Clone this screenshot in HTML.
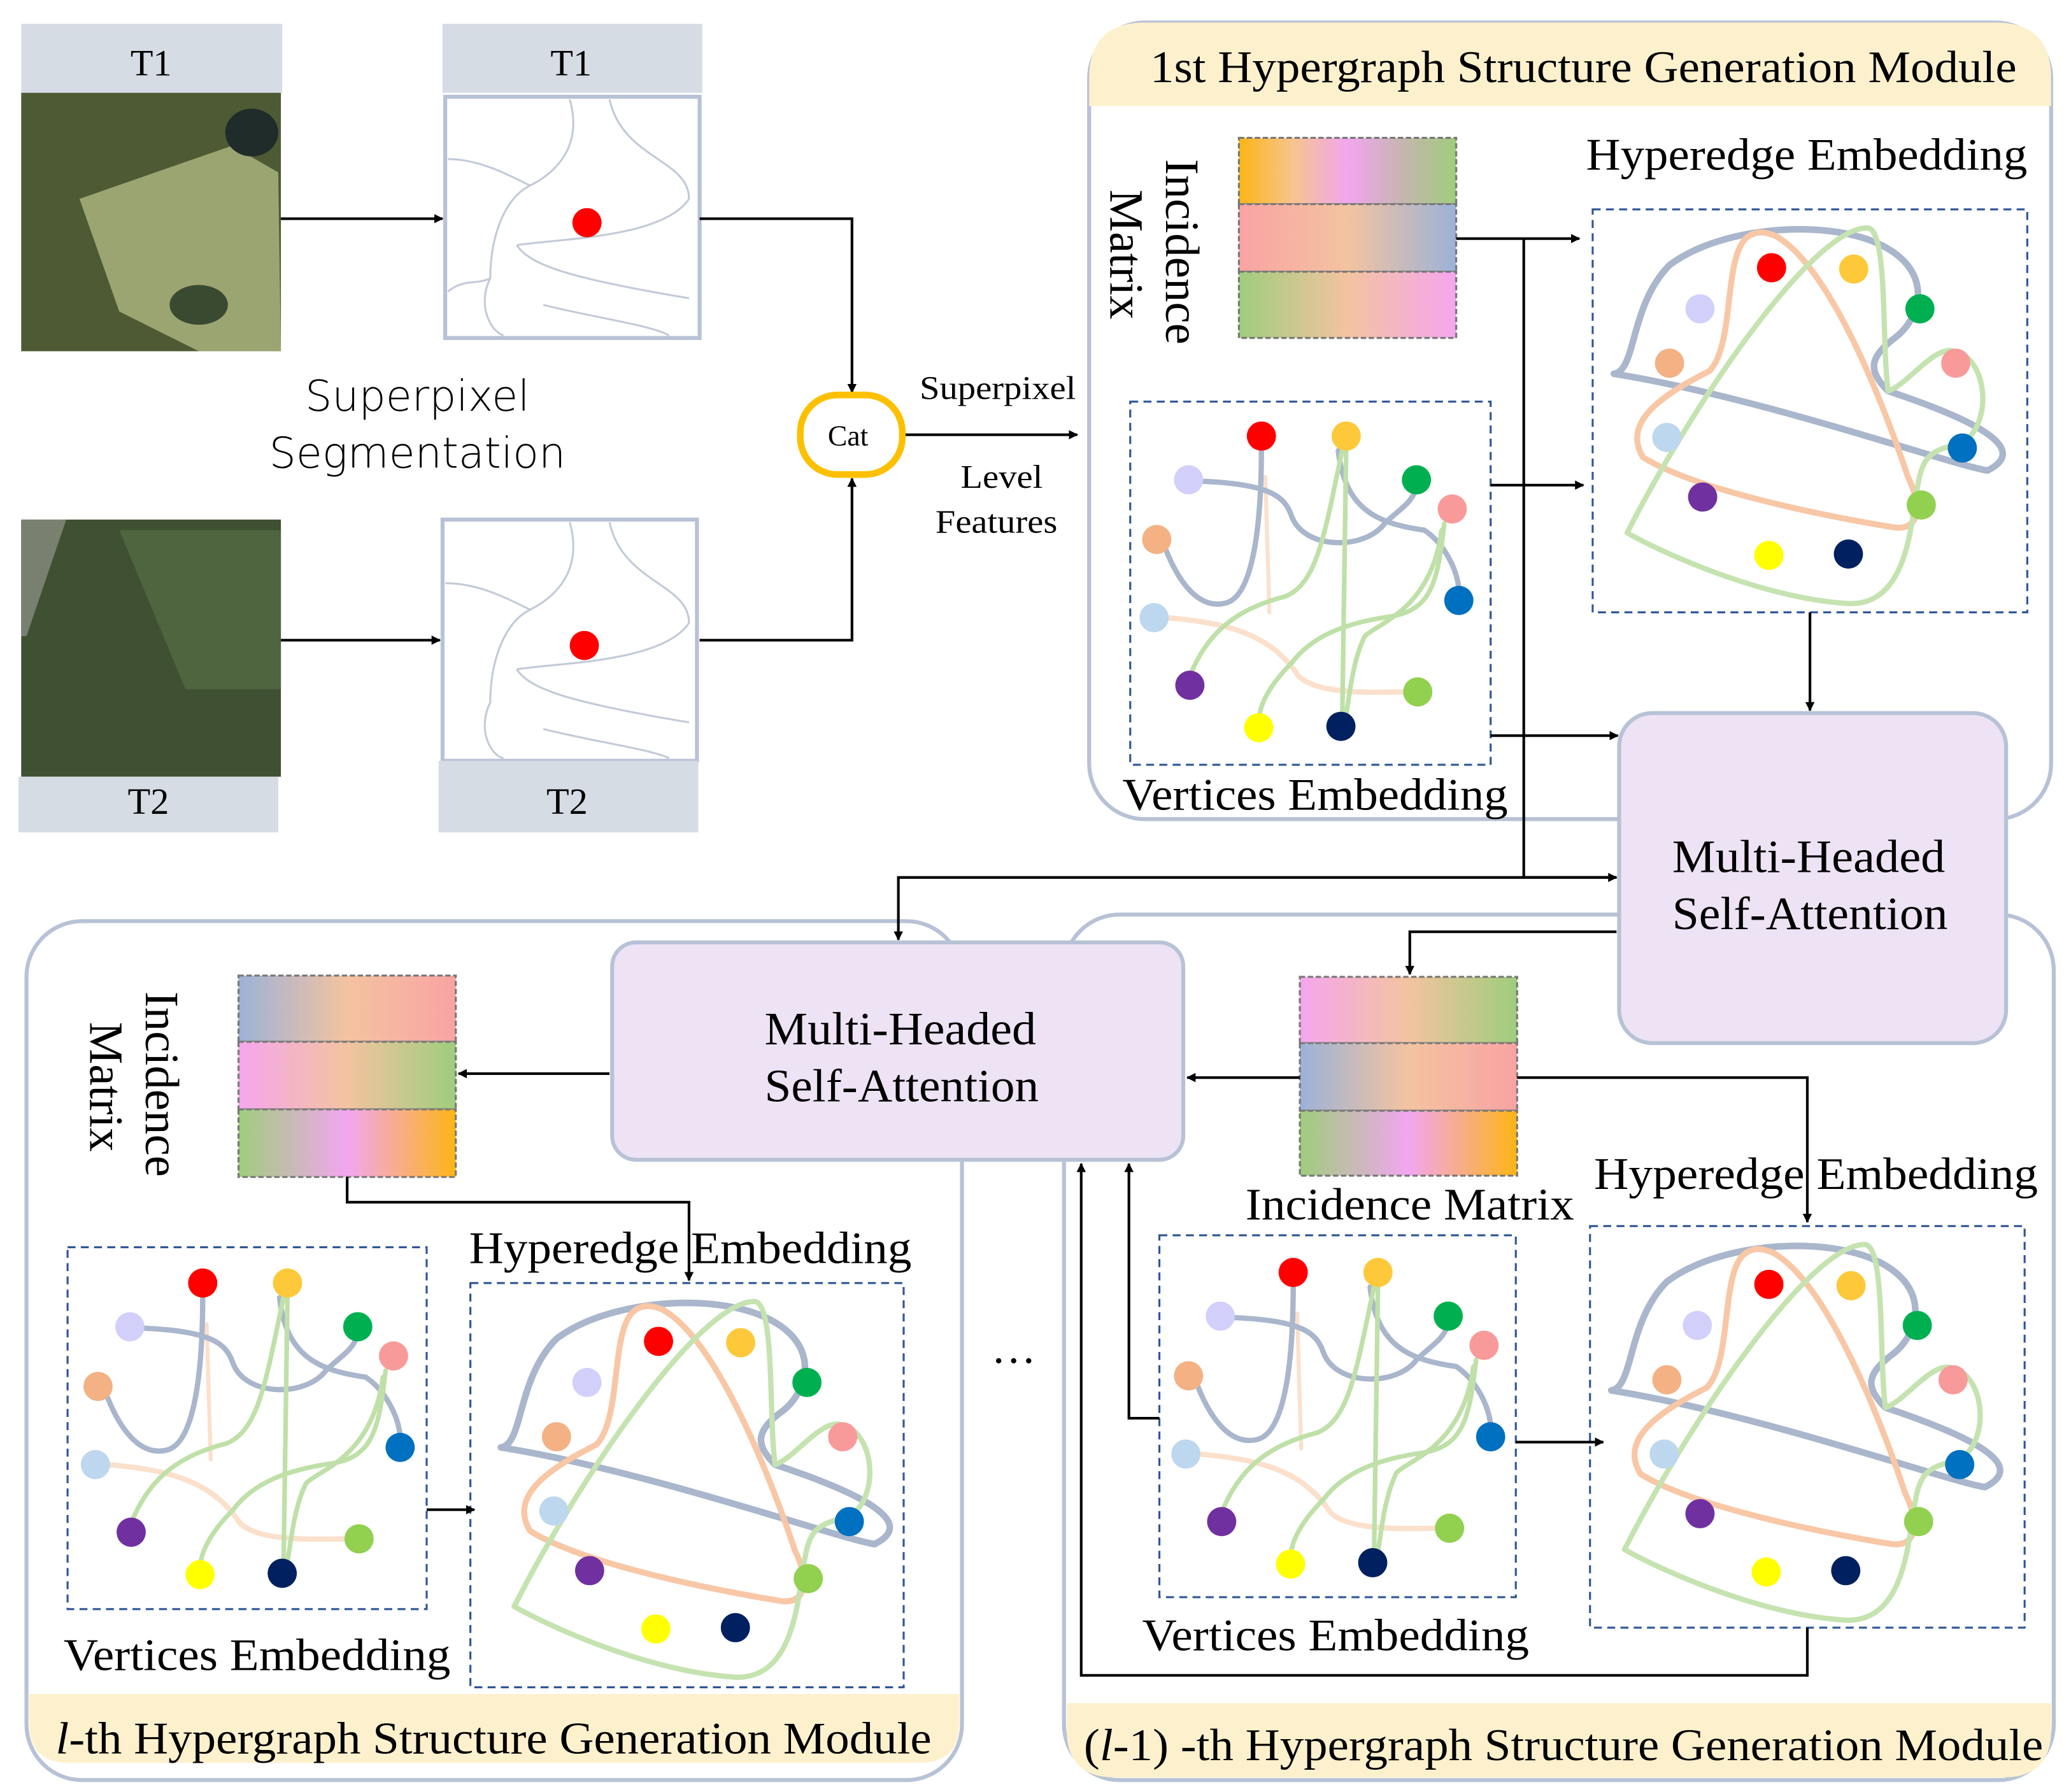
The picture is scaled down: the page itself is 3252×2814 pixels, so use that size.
<!DOCTYPE html>
<html><head><meta charset="utf-8"><style>html,body{margin:0;padding:0;background:#fff}svg{display:block}</style></head><body>
<svg width="3252" height="2814" viewBox="0 0 1563 1352" preserveAspectRatio="none" xmlns="http://www.w3.org/2000/svg" font-family="Liberation Serif, serif">
<defs>
<marker id="ar" viewBox="0 0 10 10" refX="9" refY="5" markerWidth="7" markerHeight="7" orient="auto" markerUnits="userSpaceOnUse"><path d="M0,0 L10,5 L0,10 z" fill="#000"/></marker>
<linearGradient id="g1" x1="0" x2="1"><stop offset="0" stop-color="#fdb515"/><stop offset=".25" stop-color="#f6c48e"/><stop offset=".5" stop-color="#f2a6f0"/><stop offset=".75" stop-color="#c7b5b0"/><stop offset="1" stop-color="#9fcd7c"/></linearGradient>
<linearGradient id="g2" x1="0" x2="1"><stop offset="0" stop-color="#f9a3a3"/><stop offset=".5" stop-color="#f3c3a0"/><stop offset="1" stop-color="#9cb2d8"/></linearGradient>
<linearGradient id="g3" x1="0" x2="1"><stop offset="0" stop-color="#9fcd7c"/><stop offset=".5" stop-color="#f3c3a0"/><stop offset="1" stop-color="#f5a6ee"/></linearGradient>
<linearGradient id="g4" x1="0" x2="1"><stop offset="0" stop-color="#9cb2d8"/><stop offset=".5" stop-color="#f3c3a0"/><stop offset="1" stop-color="#f9a3a3"/></linearGradient>
<linearGradient id="g5" x1="0" x2="1"><stop offset="0" stop-color="#f5a6ee"/><stop offset=".5" stop-color="#f3c3a0"/><stop offset="1" stop-color="#9fcd7c"/></linearGradient>
<linearGradient id="g6" x1="0" x2="1"><stop offset="0" stop-color="#9fcd7c"/><stop offset=".5" stop-color="#f2a6f0"/><stop offset="1" stop-color="#fdb515"/></linearGradient>
<g id="vert">
<g fill="none" stroke-linecap="round">
<path d="M880,466 C930,470 960,480 980,510 C995,525 1040,522 1062,522" stroke="#fbe0cc" stroke-width="4"/>
<path d="M955,360 L958,462" stroke="#fbe0cc" stroke-width="3"/>
<path d="M905,363 C960,365 970,375 975,390 C985,415 1030,415 1045,395 C1055,385 1065,380 1068,370" stroke="#a9b6cc" stroke-width="4"/>
<path d="M1010,340 C1015,385 1040,395 1075,400 C1090,410 1100,430 1101,445" stroke="#a9b6cc" stroke-width="4"/>
<path d="M952,338 C952,400 945,450 925,455 C905,460 890,440 880,415" stroke="#a9b6cc" stroke-width="4"/>
<path d="M1016,335 L1013,543" stroke="#bfe0a8" stroke-width="3.5"/>
<path d="M1014,335 C1000,400 995,440 970,450 C930,460 910,480 898,510" stroke="#bfe0a8" stroke-width="3.5"/>
<path d="M1090,395 C1085,440 1080,460 1050,465 C1015,470 990,480 975,500 C955,520 950,535 950,545" stroke="#bfe0a8" stroke-width="3.5"/>
<path d="M1088,400 C1080,460 1040,470 1030,480 C1020,500 1018,530 1015,545" stroke="#bfe0a8" stroke-width="3.5"/>
</g>
<circle cx="897" cy="362" r="11" fill="#d2d0fb"/><circle cx="952" cy="329" r="11" fill="#f00"/><circle cx="1016" cy="329" r="11" fill="#fdc93a"/><circle cx="1069" cy="362" r="11" fill="#00b050"/><circle cx="1096" cy="384" r="11" fill="#f99a9a"/><circle cx="873" cy="407" r="11" fill="#f3b184"/><circle cx="1101" cy="453" r="11" fill="#0070c0"/><circle cx="871" cy="466" r="11" fill="#bdd7ee"/><circle cx="898" cy="517" r="11" fill="#7030a0"/><circle cx="1070" cy="522" r="11" fill="#92d050"/><circle cx="950" cy="549" r="11" fill="#ff0"/><circle cx="1012" cy="548" r="11" fill="#002060"/>
</g>
<g id="hyp">
<g fill="none" stroke-linecap="round" stroke-linejoin="round">
<path d="M1218,282 C1235,280 1230,230 1260,200 C1300,170 1380,165 1420,185 C1460,205 1450,240 1430,255 C1410,270 1410,280 1425,295 C1500,320 1530,340 1500,355 C1470,350 1330,300 1218,282" stroke="#a9b6cc" stroke-width="5"/>
<path d="M1320,178 C1300,190 1310,260 1290,280 C1250,300 1225,320 1240,345 C1280,370 1380,390 1430,398 C1450,400 1450,380 1440,360 C1420,300 1380,200 1340,178 C1330,174 1325,175 1320,178" stroke="#f8c7a6" stroke-width="4.5"/>
<path d="M1228,402 C1280,300 1370,170 1410,172 C1425,175 1420,260 1425,295 C1440,290 1460,260 1475,265 C1500,270 1505,320 1480,335 C1450,340 1450,350 1445,380 C1440,420 1430,460 1390,455 C1330,450 1260,420 1228,402" stroke="#c5e3b0" stroke-width="4"/>
</g>
<circle cx="1337" cy="202" r="11" fill="#f00"/><circle cx="1399" cy="203" r="11" fill="#fdc93a"/><circle cx="1449" cy="233" r="11" fill="#00b050"/><circle cx="1283" cy="233" r="11" fill="#d2d0fb"/><circle cx="1260" cy="274" r="11" fill="#f3b184"/><circle cx="1476" cy="274" r="11" fill="#f99a9a"/><circle cx="1258" cy="330" r="11" fill="#bdd7ee"/><circle cx="1481" cy="338" r="11" fill="#0070c0"/><circle cx="1285" cy="375" r="11" fill="#7030a0"/><circle cx="1450" cy="381" r="11" fill="#92d050"/><circle cx="1335" cy="419" r="11" fill="#ff0"/><circle cx="1395" cy="418" r="11" fill="#002060"/>
</g>
</defs>

<!-- modules -->
<rect x="822" y="17" width="726" height="601" rx="42" fill="#fff" stroke="#b8c2d6" stroke-width="3"/>
<path d="M822,80 L822,59 Q822,17 864,17 L1506,17 Q1548,17 1548,59 L1548,80 Z" fill="#fdf1cd"/>
<rect x="20" y="695" width="706" height="648" rx="42" fill="#fff" stroke="#b8c2d6" stroke-width="3"/>
<rect x="803" y="690" width="747" height="653" rx="42" fill="#fff" stroke="#b8c2d6" stroke-width="3"/>
<path d="M22,1278 L724,1278 L724,1300 Q724,1330 694,1330 L52,1330 Q22,1330 22,1300 Z" fill="#fdf1cd"/>
<path d="M805,1285 L1548,1285 L1548,1305 Q1548,1341 1512,1341 L841,1341 Q805,1341 805,1305 Z" fill="#fdf1cd"/>
<text x="868" y="62" font-size="34" textLength="654" lengthAdjust="spacingAndGlyphs">1st Hypergraph Structure Generation Module</text>
<text x="42" y="1323" font-size="34" textLength="661" lengthAdjust="spacingAndGlyphs"><tspan font-style="italic">l</tspan>-th Hypergraph Structure Generation Module</text>
<text x="818" y="1328" font-size="34" textLength="724" lengthAdjust="spacingAndGlyphs">(<tspan font-style="italic">l</tspan>-1) -th Hypergraph Structure Generation Module</text>

<!-- left images -->
<rect x="16" y="18" width="197" height="52" fill="#d6dce4"/><text x="114" y="57" font-size="28" text-anchor="middle">T1</text>
<rect x="16" y="70" width="196" height="195" fill="#4e5a34"/>
<path d="M60,150 L175,110 L210,130 L212,265 L150,265 L90,235 Z" fill="#9aa571"/>
<ellipse cx="150" cy="230" rx="22" ry="15" fill="#3a4a30"/><ellipse cx="190" cy="100" rx="20" ry="18" fill="#1f2c2a"/>
<rect x="16" y="392" width="196" height="194" fill="#3f5132"/>
<path d="M90,400 L212,400 L212,520 L140,520 Z" fill="#4e6540"/><path d="M16,392 L50,392 L20,480 L16,480Z" fill="#7a8070"/>
<rect x="14" y="586" width="196" height="42" fill="#d6dce4"/><text x="112" y="614" font-size="28" text-anchor="middle">T2</text>

<rect x="334" y="18" width="196" height="52" fill="#d6dce4"/><text x="431" y="57" font-size="28" text-anchor="middle">T1</text>
<rect x="336" y="73" width="192" height="182" fill="#fff" stroke="#b8c2d6" stroke-width="3"/>
<g fill="none" stroke="#c3cad8" stroke-width="1.5">
<path d="M430,75 C440,110 420,130 400,140 C380,150 370,180 370,210 C360,230 370,250 380,253"/><path d="M460,75 C470,120 520,120 520,150 C500,180 420,180 390,185"/><path d="M338,120 C360,120 380,130 400,140"/><path d="M390,185 C400,200 430,210 520,225"/><path d="M410,230 C450,240 490,245 505,253"/><path d="M338,220 C350,210 360,215 370,210"/>
</g>
<circle cx="443" cy="168" r="11" fill="#f00"/>
<rect x="334" y="392" width="192" height="182" fill="#fff" stroke="#b8c2d6" stroke-width="3"/>
<g fill="none" stroke="#c3cad8" stroke-width="1.5">
<path d="M430,394 C440,430 420,450 400,460 C380,470 370,500 370,530 C360,550 370,570 380,572"/><path d="M460,394 C470,440 520,440 520,470 C500,500 420,500 390,505"/><path d="M336,440 C360,440 380,450 400,460"/><path d="M390,505 C400,520 430,530 520,545"/><path d="M410,550 C450,560 490,565 505,572"/>
</g>
<circle cx="441" cy="487" r="11" fill="#f00"/>
<rect x="331" y="574" width="196" height="54" fill="#d6dce4"/><text x="428" y="614" font-size="28" text-anchor="middle">T2</text>
<text x="315" y="310" font-size="32" text-anchor="middle" font-family="DejaVu Sans, sans-serif" font-weight="300">Superpixel</text>
<text x="315" y="353" font-size="32" text-anchor="middle" font-family="DejaVu Sans, sans-serif" font-weight="300">Segmentation</text>
<g stroke="#000" stroke-width="2" fill="none">
<line x1="212" y1="165" x2="334" y2="165" marker-end="url(#ar)"/>
<line x1="212" y1="483" x2="332" y2="483" marker-end="url(#ar)"/>
<polyline points="528,165 643,165 643,296" marker-end="url(#ar)"/>
<polyline points="528,483 643,483 643,361" marker-end="url(#ar)"/>
<line x1="682" y1="328" x2="813" y2="328" marker-end="url(#ar)"/>
</g>
<rect x="604" y="298" width="77" height="60" rx="28" fill="#fff" stroke="#fdc000" stroke-width="5"/>
<text x="640" y="336" font-size="22" text-anchor="middle">Cat</text>
<text x="694" y="301" font-size="25" textLength="118" lengthAdjust="spacingAndGlyphs">Superpixel</text>
<text x="725" y="368" font-size="25" textLength="62" lengthAdjust="spacingAndGlyphs">Level</text>
<text x="706" y="402" font-size="25" textLength="92" lengthAdjust="spacingAndGlyphs">Features</text>

<!-- module 1 -->
<text font-size="36" transform="translate(880,120) rotate(90)">Incidence</text>
<text font-size="36" transform="translate(838,143) rotate(90)">Matrix</text>
<g stroke="#777" stroke-width="1.5" stroke-dasharray="4,2">
<rect x="935" y="104" width="164" height="50" fill="url(#g1)"/><rect x="935" y="154" width="164" height="51" fill="url(#g2)"/><rect x="935" y="205" width="164" height="50" fill="url(#g3)"/>
</g>
<text x="1197" y="128" font-size="34" textLength="333" lengthAdjust="spacingAndGlyphs">Hyperedge Embedding</text>
<rect x="853" y="303" width="272" height="274" fill="#fff" stroke="#2f5597" stroke-width="1.5" stroke-dasharray="6,4"/>
<rect x="1202" y="158" width="328" height="304" fill="#fff" stroke="#2f5597" stroke-width="1.5" stroke-dasharray="6,4"/>
<use href="#vert"/><use href="#hyp"/>
<text x="847" y="611" font-size="34" textLength="291" lengthAdjust="spacingAndGlyphs">Vertices Embedding</text>

<!-- lower left -->
<text font-size="36" transform="translate(110,748) rotate(90)">Incidence</text>
<text font-size="36" transform="translate(68,771) rotate(90)">Matrix</text>
<g stroke="#777" stroke-width="1.5" stroke-dasharray="4,2">
<rect x="180" y="736" width="164" height="50" fill="url(#g4)"/><rect x="180" y="786" width="164" height="51" fill="url(#g5)"/><rect x="180" y="837" width="164" height="51" fill="url(#g6)"/>
</g>
<rect x="51" y="941" width="271" height="273" fill="#fff" stroke="#2f5597" stroke-width="1.5" stroke-dasharray="6,4"/>
<rect x="355" y="968" width="327" height="305" fill="#fff" stroke="#2f5597" stroke-width="1.5" stroke-dasharray="6,4"/>
<use href="#vert" transform="translate(-799,639)"/>
<use href="#hyp" transform="translate(-840,810)"/>
<text x="354" y="953" font-size="34" textLength="334" lengthAdjust="spacingAndGlyphs">Hyperedge Embedding</text>
<text x="48" y="1260" font-size="34" textLength="292" lengthAdjust="spacingAndGlyphs">Vertices Embedding</text>
<text x="765" y="1038" font-size="34" text-anchor="middle">···</text>

<!-- lower right -->
<g stroke="#777" stroke-width="1.5" stroke-dasharray="4,2">
<rect x="981" y="737" width="164" height="50" fill="url(#g5)"/><rect x="981" y="787" width="164" height="51" fill="url(#g4)"/><rect x="981" y="838" width="164" height="49" fill="url(#g6)"/>
</g>
<text x="940" y="920" font-size="34" textLength="248" lengthAdjust="spacingAndGlyphs">Incidence Matrix</text>
<text x="1203" y="897" font-size="34" textLength="335" lengthAdjust="spacingAndGlyphs">Hyperedge Embedding</text>
<rect x="875" y="932" width="269" height="273" fill="#fff" stroke="#2f5597" stroke-width="1.5" stroke-dasharray="6,4"/>
<rect x="1200" y="925" width="328" height="303" fill="#fff" stroke="#2f5597" stroke-width="1.5" stroke-dasharray="6,4"/>
<use href="#vert" transform="translate(24,631)"/>
<use href="#hyp" transform="translate(-2,767)"/>
<text x="862" y="1245" font-size="34" textLength="292" lengthAdjust="spacingAndGlyphs">Vertices Embedding</text>

<!-- attention boxes -->
<rect x="1222" y="538" width="292" height="249" rx="25" fill="#ede3f4" stroke="#b8c2d6" stroke-width="3"/>
<text x="1262" y="658" font-size="35" textLength="206" lengthAdjust="spacingAndGlyphs">Multi-Headed</text>
<text x="1262" y="701" font-size="35" textLength="208" lengthAdjust="spacingAndGlyphs">Self-Attention</text>
<rect x="462" y="711" width="431" height="164" rx="18" fill="#ede3f4" stroke="#b8c2d6" stroke-width="3"/>
<text x="577" y="788" font-size="35" textLength="205" lengthAdjust="spacingAndGlyphs">Multi-Headed</text>
<text x="577" y="831" font-size="35" textLength="207" lengthAdjust="spacingAndGlyphs">Self-Attention</text>

<!-- connectors -->
<g stroke="#000" stroke-width="2" fill="none">
<line x1="1099" y1="180" x2="1192" y2="180" marker-end="url(#ar)"/>
<line x1="1150" y1="180" x2="1150" y2="662"/>
<line x1="1125" y1="366" x2="1195" y2="366" marker-end="url(#ar)"/>
<line x1="1125" y1="555" x2="1221" y2="555" marker-end="url(#ar)"/>
<line x1="1366" y1="462" x2="1366" y2="536" marker-end="url(#ar)"/>
<line x1="1150" y1="662" x2="1220" y2="662" marker-end="url(#ar)"/>
<polyline points="1220,662 678,662 678,709" marker-end="url(#ar)"/>
<polyline points="1220,703 1064,703 1064,735" marker-end="url(#ar)"/>
<line x1="981" y1="813" x2="896" y2="813" marker-end="url(#ar)"/>
<polyline points="1145,813 1364,813 1364,922" marker-end="url(#ar)"/>
<line x1="460" y1="810" x2="346" y2="810" marker-end="url(#ar)"/>
<polyline points="262,888 262,907 520,907 520,966" marker-end="url(#ar)"/>
<line x1="322" y1="1139" x2="358" y2="1139" marker-end="url(#ar)"/>
<line x1="1144" y1="1088" x2="1210" y2="1088" marker-end="url(#ar)"/>
<polyline points="875,1070 852,1070 852,878" marker-end="url(#ar)"/>
<polyline points="1364,1228 1364,1264 816,1264 816,878" marker-end="url(#ar)"/>
</g>
</svg>
</body></html>
